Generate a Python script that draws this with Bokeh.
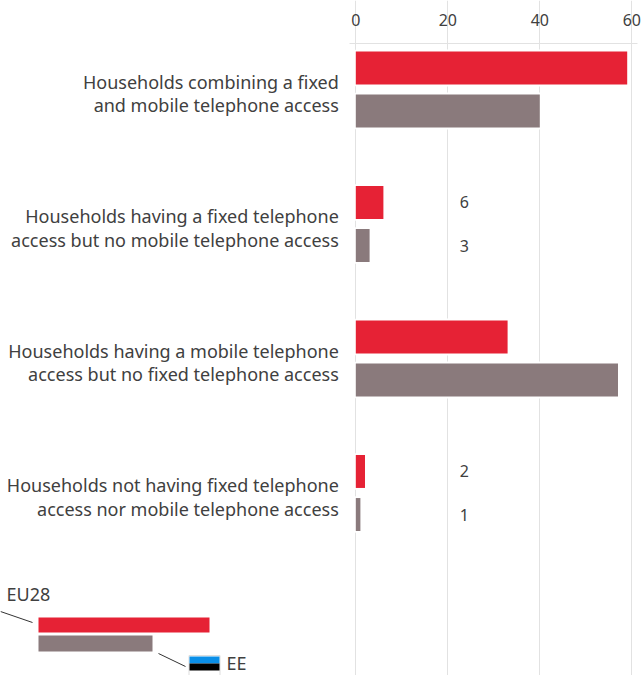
from bokeh.plotting import figure
from bokeh.models import Range1d, FixedTicker, ColumnDataSource, LinearAxis
from bokeh.core.properties import value
from bokeh.embed import file_html
from bokeh.resources import INLINE

categories = [
    "Households combining a fixed\nand mobile telephone access",
    "Households having a fixed telephone\naccess but no mobile telephone access",
    "Households having a mobile telephone\naccess but no fixed telephone access",
    "Households not having fixed telephone\naccess nor mobile telephone access",
]
eu28_values = [59, 6, 33, 2]
ee_values = [40, 3, 57, 1]
labelled_eu28 = ["", "6", "", "2"]
labelled_ee = ["", "3", "", "1"]
x_ticks = [0, 20, 40, 60]

RED = "#e62235"
GREY = "#8a7a7c"
TEXT = "#404040"
GRID = "#e2e2e2"
FONT = "Noto Sans"

W, H = 643, 675
X0, XK = 355.3, 4.6      # page x of value 0, pixels per unit
Y0, YK = 89.0, 134.5     # page y of first group, pixels per group
def dx(px): return (px - X0) / XK
def dy(px): return (px - Y0) / YK

idx = list(range(len(categories)))
y_red = [i - 0.16 for i in idx]
y_grey = [i + 0.16 for i in idx]
BAR_H = 0.245

p = figure(width=W, height=H, output_backend="svg", toolbar_location=None,
           x_axis_location=None, y_axis_location=None,
           x_range=Range1d(dx(0), dx(W)), y_range=Range1d(dy(H), dy(0)),
           min_border=0, outline_line_color=None, styles={"margin": "0px"})
p.ygrid.visible = False
p.xgrid.grid_line_color = GRID
p.xgrid.ticker = FixedTicker(ticks=x_ticks)
p.xgrid.bounds = (dy(566), dy(43))

ax = LinearAxis(fixed_location=dy(43), bounds=(dx(349), dx(637)))
ax.ticker = FixedTicker(ticks=x_ticks)
ax.axis_line_color = GRID
ax.major_tick_line_color = None
ax.minor_tick_line_color = None
ax.major_label_text_font = FONT
ax.major_label_text_font_size = "16px"
ax.major_label_text_color = TEXT
ax.major_label_standoff = 12
p.add_layout(ax, "above")

for ys, vals, col in ((y_red, eu28_values, RED), (y_grey, ee_values, GREY)):
    src = ColumnDataSource(dict(y=ys, right=vals))
    p.hbar(y="y", right="right", left=0, height=BAR_H, source=src,
           fill_color="white", line_color="white", line_width=4)
    p.hbar(y="y", right="right", left=0, height=BAR_H, source=src,
           fill_color=col, line_color=None)

p.text(x=[0] * 4, y=idx, text=categories, x_offset=-17, y_offset=4, text_align="right",
       text_baseline="middle", text_font=value(FONT), text_font_size="18px",
       text_color=TEXT, text_line_height=0.96)
p.text(x=[23.6] * 4, y=y_red, text=labelled_eu28, text_align="center", text_baseline="middle",
       text_font=value(FONT), text_font_size="16px", text_color=TEXT)
p.text(x=[23.6] * 4, y=y_grey, text=labelled_ee, text_align="center", text_baseline="middle",
       text_font=value(FONT), text_font_size="16px", text_color=TEXT)

def box(l, r, t, b, color, line=None):
    p.quad(left=[dx(l)], right=[dx(r)], top=[dy(t)], bottom=[dy(b)],
           fill_color=color, line_color=line)

box(38, 209, 617, 632, RED)
box(38, 152, 635, 651, GREY)
box(188.5, 219.5, 655, 680, "white", "#dddddd")
box(189, 219, 656, 663, "#0a8fe8")
box(189, 219, 663, 670, "black")
for xa, ya, xb, yb in ((0, 611, 32, 622), (158, 653, 185, 666)):
    p.line(x=[dx(xa), dx(xb)], y=[dy(ya), dy(yb)], line_color="#333333", line_width=1)
for x, y, t in ((6, 593, "EU28"), (226, 662, "EE")):
    p.text(x=[dx(x)], y=[dy(y)], text=[t], text_baseline="middle", text_font=value(FONT),
           text_font_size="18px", text_color=TEXT)

open("out.html", "w").write(file_html(p, INLINE))
